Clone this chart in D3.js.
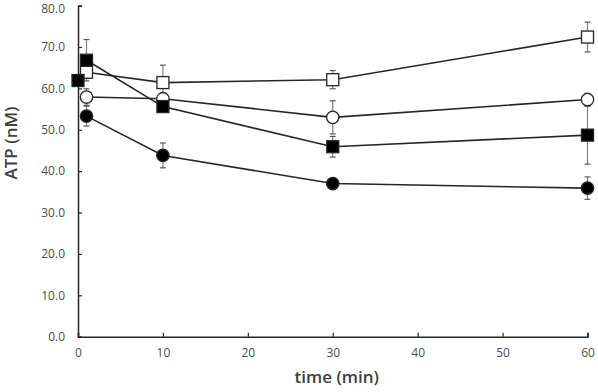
<!DOCTYPE html>
<html>
<head>
<meta charset="utf-8">
<script src="https://cdn.jsdelivr.net/npm/d3@7"></script>
<style>
  body { margin: 0; background: #fff; }
  svg { display: block; }
  .tick-label { font-family: "Open Sans", Lato, sans-serif; font-size: 12px; fill: #4d4d4d; }
  .axis-title { font-family: "Open Sans", Lato, sans-serif; font-size: 17px; font-weight: 600; fill: #404040; }
</style>
</head>
<body>
<svg id="chart"></svg>
<script>
// time points (min)
const openSquareT = [1, 10, 30, 60];
const openSquareV = [63.9, 61.4, 62.1, 72.4];
const openSquareE = [1.5, 4.2, 2.2, 3.6];

const openCircleT = [1, 10, 30, 60];
const openCircleV = [57.9, 57.5, 53.0, 57.3];
const openCircleE = [2.0, 1.3, 4.0, 1.5];

const filledSquareT = [0, 1, 10, 30, 60];
const filledSquareV = [61.9, 66.8, 55.6, 45.9, 48.7];
const filledSquareE = [0.5, 5.0, 1.2, 2.5, 7.0];

const filledCircleT = [1, 10, 30, 60];
const filledCircleV = [53.3, 43.8, 37.0, 35.9];
const filledCircleE = [2.4, 3.0, 1.0, 2.7];

const xTicks = [0, 10, 20, 30, 40, 50, 60];
const yTicks = [0, 10, 20, 30, 40, 50, 60, 70, 80];

const width = 598, height = 392;
const margin = { top: 5.6, right: 10.5, bottom: 55.3, left: 78 };
const w = width - margin.left - margin.right;
const h = height - margin.top - margin.bottom;

const svg = d3.select('#chart').attr('width', width).attr('height', height);
const g = svg.append('g').attr('transform', `translate(${margin.left},${margin.top})`);

const x = d3.scaleLinear().domain([0, 60]).range([0, w]);
const y = d3.scaleLinear().domain([0, 80]).range([h, 0]);

// axes, ticks point inward
const xAxis = d3.axisBottom(x).tickValues(xTicks).tickSize(-4).tickPadding(12).tickFormat(d3.format('d'));
const yAxis = d3.axisLeft(y).tickValues(yTicks).tickSize(-4).tickPadding(13).tickFormat(d3.format('.1f'));

const xg = g.append('g').attr('transform', `translate(0,${h})`).call(xAxis);
const yg = g.append('g').call(yAxis);
[xg, yg].forEach(a => {
  a.select('.domain').attr('stroke', '#262626').attr('stroke-width', 1.5);
  a.selectAll('.tick line').attr('stroke', '#262626').attr('stroke-width', 1.2);
  a.selectAll('.tick text').attr('class', 'tick-label').attr('fill', null);
});
// keep the top label inside the page
yg.selectAll('.tick text').filter(d => d === 80).attr('dy', '0.6em');

g.append('text').attr('class', 'axis-title')
  .attr('x', x(30) + 4).attr('y', h + 46)
  .attr('text-anchor', 'middle')
  .text('time (min)');

g.append('text').attr('class', 'axis-title')
  .attr('transform', `translate(${11.5 - margin.left},${143 - margin.top}) rotate(-90)`)
  .attr('dy', '0.35em')
  .attr('text-anchor', 'middle')
  .text('ATP (nM)');

const series = [
  { t: openSquareT, v: openSquareV, e: openSquareE, shape: 'square', fill: '#fff' },
  { t: openCircleT, v: openCircleV, e: openCircleE, shape: 'circle', fill: '#fff' },
  { t: filledSquareT, v: filledSquareV, e: filledSquareE, shape: 'square', fill: '#000' },
  { t: filledCircleT, v: filledCircleV, e: filledCircleE, shape: 'circle', fill: '#000' }
];

const line = d3.line().x(d => x(d.t)).y(d => y(d.v));

// lines first
series.forEach(s => {
  s.pts = s.t.map((t, i) => ({ t: t, v: s.v[i], e: s.e[i] }));
  g.append('path').datum(s.pts)
    .attr('d', line)
    .attr('fill', 'none')
    .attr('stroke', '#262626')
    .attr('stroke-width', 1.6);
});

// error bars
series.forEach(s => {
  const eb = g.append('g').selectAll('g').data(s.pts).join('g');
  eb.append('line')
    .attr('x1', d => x(d.t)).attr('x2', d => x(d.t))
    .attr('y1', d => y(d.v + d.e)).attr('y2', d => y(d.v - d.e))
    .attr('stroke', '#7f7f7f').attr('stroke-width', 1.2);
  eb.selectAll('line.cap').data(d => [d.v + d.e, d.v - d.e].map(v => ({ t: d.t, v: v })))
    .join('line').attr('class', 'cap')
    .attr('x1', d => x(d.t) - 3).attr('x2', d => x(d.t) + 3)
    .attr('y1', d => y(d.v)).attr('y2', d => y(d.v))
    .attr('stroke', '#595959').attr('stroke-width', 1.2);
});

// markers
series.forEach(s => {
  const m = g.append('g');
  if (s.shape === 'square') {
    m.selectAll('rect').data(s.pts).join('rect')
      .attr('x', d => x(d.t) - 6).attr('y', d => y(d.v) - 6)
      .attr('width', 12).attr('height', 12)
      .attr('fill', s.fill).attr('stroke', '#262626').attr('stroke-width', 1.3);
  } else {
    m.selectAll('circle').data(s.pts).join('circle')
      .attr('cx', d => x(d.t)).attr('cy', d => y(d.v))
      .attr('r', 6.2)
      .attr('fill', s.fill).attr('stroke', '#262626').attr('stroke-width', 1.3);
  }
});
</script>
</body>
</html>
